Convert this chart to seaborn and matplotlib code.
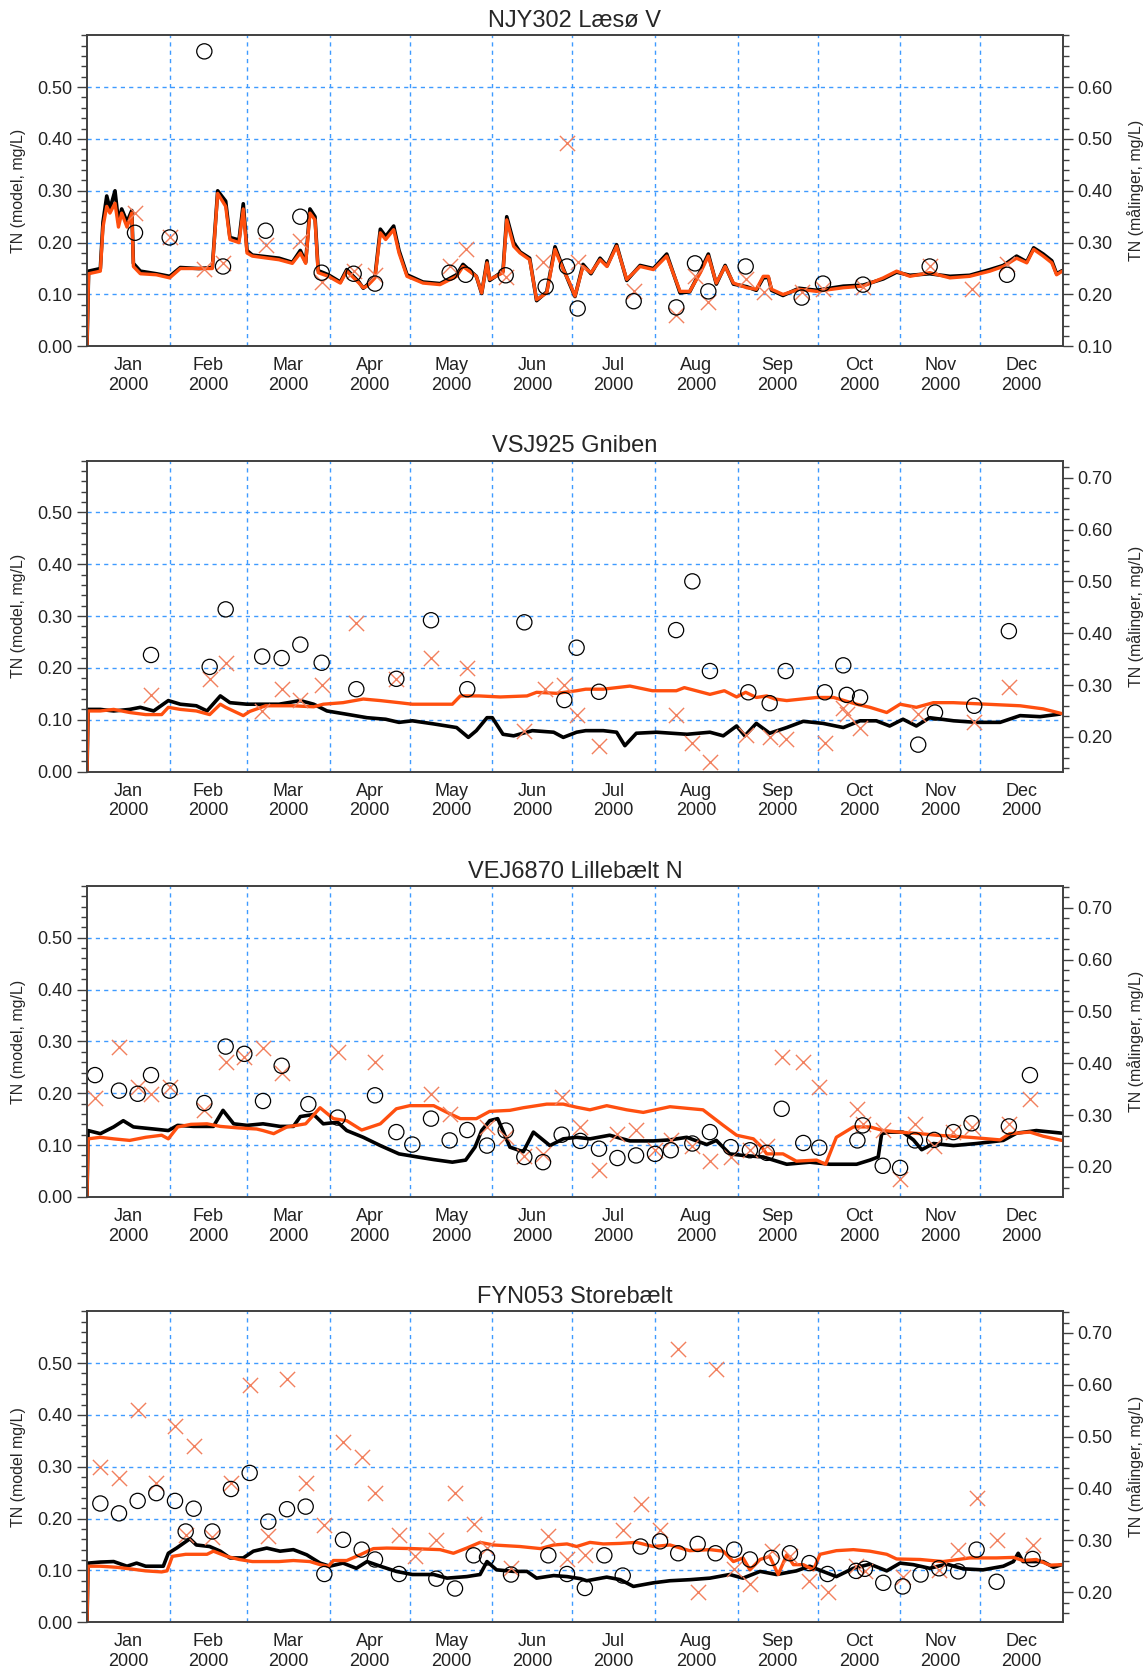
import numpy as np
import pandas as pd
import matplotlib
matplotlib.use('Agg')
import matplotlib.pyplot as plt
from matplotlib.ticker import MultipleLocator, FixedLocator, NullFormatter
import seaborn as sns

# ---- data (x = day of year 2000, values in mg/L) ----
titles = ['NJY302 Læsø V', 'VSJ925 Gniben', 'VEJ6870 Lillebælt N', 'FYN053 Storebælt']
left_labels = ['TN (model, mg/L)', 'TN (model, mg/L)', 'TN (model, mg/L)', 'TN (model mg/L)']
right_label = 'TN (målinger, mg/L)'
right_offset = [0.10, 0.133, 0.142, 0.142]
month_names = ['Jan', 'Feb', 'Mar', 'Apr', 'May', 'Jun', 'Jul', 'Aug', 'Sep', 'Oct', 'Nov', 'Dec']

# NJY302
p1_days = [0, 0.6, 5, 6, 7.4, 8.6, 10.5, 11.8, 13, 15, 16.8, 17.4, 20, 26, 31, 35, 42, 47, 49, 52,
           53.6, 57, 58.6, 60, 62, 72, 77, 80, 82, 83.6, 85.5, 86.7, 90.5, 95, 97.4, 102, 103.6, 105,
           108, 110, 112, 115, 117, 120, 126, 132.4, 138.6, 141, 146, 148, 150, 151, 156, 157.4, 160,
           162.4, 166, 168.6, 172.4, 175.5, 178.6, 181, 183, 186, 189, 192.4, 195, 198.6, 202.4,
           207.4, 212.4, 217.4, 222.4, 226, 230, 233, 236, 239.3, 242.4, 247.4, 251, 253.6, 255.5,
           256.7, 261, 267, 273.6, 283.6, 291, 298.6, 303.6, 308.6, 316, 323.6, 331, 338.6, 343.6,
           348.6, 352.4, 355, 358.6, 361.8, 363.6, 365.7]
p1_orange = [0.0, 0.14, 0.145, 0.23, 0.27, 0.257, 0.276, 0.23, 0.257, 0.23, 0.257, 0.154, 0.14,
             0.138, 0.132, 0.15, 0.15, 0.15, 0.295, 0.27, 0.206, 0.2, 0.265, 0.18, 0.174, 0.167,
             0.16, 0.18, 0.16, 0.257, 0.244, 0.142, 0.135, 0.122, 0.145, 0.122, 0.113, 0.116, 0.132,
             0.219, 0.206, 0.225, 0.18, 0.135, 0.122, 0.119, 0.135, 0.154, 0.135, 0.103, 0.161,
             0.129, 0.142, 0.244, 0.193, 0.18, 0.167, 0.09, 0.103, 0.187, 0.148, 0.122, 0.097,
             0.154, 0.142, 0.167, 0.154, 0.193, 0.129, 0.154, 0.148, 0.174, 0.106, 0.106, 0.142,
             0.174, 0.122, 0.154, 0.122, 0.113, 0.11, 0.135, 0.135, 0.11, 0.1, 0.11, 0.106, 0.113,
             0.116, 0.132, 0.145, 0.135, 0.142, 0.132, 0.135, 0.145, 0.154, 0.17, 0.161, 0.187,
             0.174, 0.161, 0.138, 0.145]
p1_black = [0.0, 0.145, 0.15, 0.24, 0.29, 0.265, 0.30, 0.24, 0.265, 0.24, 0.262, 0.16, 0.145,
            0.14, 0.135, 0.152, 0.15, 0.152, 0.30, 0.28, 0.21, 0.205, 0.275, 0.185, 0.176, 0.17,
            0.162, 0.185, 0.162, 0.265, 0.25, 0.146, 0.138, 0.124, 0.148, 0.124, 0.112, 0.118, 0.135,
            0.226, 0.212, 0.232, 0.185, 0.138, 0.124, 0.121, 0.138, 0.158, 0.135, 0.102, 0.165,
            0.127, 0.145, 0.25, 0.2, 0.182, 0.17, 0.088, 0.105, 0.192, 0.15, 0.12, 0.096,
            0.158, 0.14, 0.17, 0.155, 0.196, 0.127, 0.156, 0.15, 0.178, 0.103, 0.105, 0.145,
            0.178, 0.12, 0.156, 0.12, 0.115, 0.108, 0.132, 0.133, 0.108, 0.098, 0.112, 0.108, 0.116,
            0.118, 0.13, 0.143, 0.137, 0.14, 0.135, 0.137, 0.148, 0.156, 0.174, 0.163, 0.19,
            0.178, 0.165, 0.14, 0.146]
p1_circ_days = [18, 31, 44, 51, 67, 80, 88, 100, 108, 136, 142, 157, 172, 180, 184, 205, 221, 228,
                233, 247, 268, 276, 291, 316, 345]
p1_circ = [0.219, 0.21, 0.569, 0.154, 0.223, 0.25, 0.142, 0.14, 0.121, 0.142, 0.138, 0.137, 0.115,
           0.154, 0.073, 0.087, 0.075, 0.16, 0.106, 0.154, 0.094, 0.121, 0.119, 0.154, 0.138]
p1_x_days = [18, 31, 44, 51, 67, 80, 88, 100, 108, 136, 142, 157, 171, 180, 184, 205, 221, 228, 233,
             247, 254, 268, 276, 291, 316, 332, 345]
p1_x = [0.258, 0.211, 0.15, 0.16, 0.196, 0.204, 0.125, 0.146, 0.138, 0.154, 0.187, 0.133, 0.163,
        0.392, 0.163, 0.106, 0.06, 0.135, 0.085, 0.129, 0.104, 0.104, 0.11, 0.115, 0.154, 0.11, 0.158]

# VSJ925
p2_orange_days = [0, 0.4, 5, 10, 16, 22, 28, 30.5, 35, 41, 46, 50, 52, 58.6, 61, 67, 77, 85, 88.6,
                  96, 103.6, 110, 117, 122, 132, 137, 140, 147, 155, 165, 168.6, 176, 183.6, 187,
                  193.6, 203.6, 212, 221, 224, 233.6, 239, 243.6, 247, 251, 254.9, 258, 262.4,
                  273.6, 280, 288.6, 293.6, 299.9, 304.9, 311, 317.4, 324.9, 337.4, 349.9, 358.6,
                  365.5]
p2_orange = [0.0, 0.117, 0.117, 0.12, 0.114, 0.11, 0.11, 0.124, 0.12, 0.117, 0.11, 0.13, 0.124,
             0.108, 0.116, 0.127, 0.127, 0.125, 0.13, 0.133, 0.14, 0.137, 0.133, 0.13, 0.13, 0.13,
             0.146, 0.146, 0.144, 0.146, 0.153, 0.151, 0.156, 0.159, 0.159, 0.165, 0.156, 0.156,
             0.162, 0.149, 0.156, 0.144, 0.153, 0.143, 0.146, 0.14, 0.137, 0.143, 0.143, 0.13,
             0.124, 0.114, 0.13, 0.124, 0.133, 0.133, 0.13, 0.127, 0.121, 0.112]
p2_black_days = [0, 0.4, 5, 10, 16, 20, 25, 30.5, 35, 41, 45, 50, 53.6, 60, 67, 72, 80, 85, 90, 97,
                 105, 112, 117, 122, 130, 138.6, 143, 146, 150, 152, 156, 160, 167, 175, 178.6,
                 183.6, 187, 193.6, 198.6, 201.7, 206, 213.6, 225, 233.6, 238.6, 243.6, 246.7,
                 251, 256, 262.4, 268.6, 276, 283.6, 289.9, 296, 301, 306, 311, 316, 325, 333.6,
                 342.4, 349.9, 357.4, 364.9]
p2_black = [0.0, 0.12, 0.12, 0.117, 0.12, 0.124, 0.117, 0.137, 0.13, 0.127, 0.117, 0.146, 0.133,
            0.13, 0.13, 0.13, 0.137, 0.13, 0.117, 0.111, 0.104, 0.101, 0.095, 0.098, 0.092, 0.085,
            0.066, 0.079, 0.104, 0.104, 0.072, 0.069, 0.079, 0.076, 0.066, 0.076, 0.079, 0.079,
            0.076, 0.05, 0.074, 0.076, 0.072, 0.076, 0.069, 0.088, 0.069, 0.093, 0.074, 0.085,
            0.097, 0.093, 0.085, 0.098, 0.098, 0.088, 0.101, 0.088, 0.104, 0.098, 0.095, 0.095,
            0.108, 0.106, 0.111]
p2_circ_days = [24, 46, 52, 65.7, 73, 80, 88, 101, 116, 129, 142.6, 164, 179, 183.6, 192, 220.9,
                227, 233.6, 248, 256, 262, 276.7, 283.6, 284.9, 289.9, 311.7, 318, 332.7, 345.7]
p2_circ = [0.225, 0.202, 0.313, 0.222, 0.219, 0.245, 0.21, 0.159, 0.179, 0.292, 0.159, 0.288, 0.138,
           0.239, 0.154, 0.273, 0.367, 0.194, 0.153, 0.132, 0.194, 0.153, 0.205, 0.148, 0.143,
           0.052, 0.114, 0.127, 0.271]
p2_x_days = [24, 46, 52, 65.7, 73, 80, 88, 101, 116, 129, 142.6, 164, 171.8, 179, 183.6, 192, 220.9,
             227, 233.6, 247, 256, 262, 276.7, 283.6, 284.9, 289.9, 311.7, 332.7, 345.7]
p2_x = [0.148, 0.178, 0.21, 0.116, 0.159, 0.138, 0.167, 0.287, 0.179, 0.219, 0.199, 0.079, 0.16,
        0.167, 0.11, 0.049, 0.11, 0.056, 0.018, 0.07, 0.066, 0.063, 0.056, 0.122, 0.111, 0.085,
        0.111, 0.095, 0.163]

# VEJ6870
p3_orange_days = [0, 0.4, 5, 10, 16, 22, 28, 30.5, 34, 39, 45, 50, 57, 63.6, 66, 70, 75, 82, 87.4,
                  92.4, 97.4, 103, 110, 116, 121, 130, 135, 140, 146, 151, 158.6, 163.6, 172.4,
                  178.6, 183.6, 188.6, 194.9, 202.4, 208.6, 218.6, 231, 238.6, 243.6, 249.9, 253,
                  254.9, 261, 266, 273.6, 277, 281, 287.4, 293.6, 298.6, 304.9, 312.4, 318.6, 331,
                  342.4, 346, 353.6, 358.6, 365.5]
p3_orange = [0.0, 0.112, 0.115, 0.112, 0.109, 0.115, 0.119, 0.112, 0.135, 0.14, 0.141, 0.136,
             0.133, 0.131, 0.128, 0.122, 0.135, 0.141, 0.172, 0.151, 0.147, 0.129, 0.141, 0.17,
             0.176, 0.176, 0.163, 0.151, 0.151, 0.165, 0.167, 0.172, 0.179, 0.179, 0.173, 0.168,
             0.176, 0.168, 0.163, 0.174, 0.168, 0.138, 0.119, 0.112, 0.096, 0.083, 0.083, 0.069,
             0.071, 0.063, 0.115, 0.135, 0.135, 0.128, 0.125, 0.122, 0.119, 0.115, 0.11, 0.122,
             0.125, 0.117, 0.109]
p3_black_days = [0, 0.4, 5, 10, 13.6, 17.4, 25, 30.5, 34, 40, 47.4, 51, 55, 60, 66, 72.4, 77.4, 80,
                 85, 88.6, 94, 97.4, 103.6, 110, 117, 124, 130, 137, 142, 145.5, 148, 151, 154,
                 158.6, 163.6, 167.4, 173.6, 178.6, 183.6, 188.6, 196, 203.6, 212.4, 218.6, 224.9,
                 232.4, 236, 241, 246, 253.6, 262.4, 271, 278.6, 288.6, 293.6, 296.7, 298, 301,
                 306, 309.9, 313, 317.4, 324.9, 333.6, 343.6, 348.6, 356, 365.5]
p3_black = [0.0, 0.128, 0.122, 0.135, 0.147, 0.135, 0.131, 0.128, 0.138, 0.136, 0.136, 0.167,
            0.141, 0.138, 0.141, 0.136, 0.136, 0.155, 0.159, 0.141, 0.144, 0.128, 0.115, 0.099,
            0.083, 0.077, 0.072, 0.067, 0.071, 0.096, 0.128, 0.147, 0.151, 0.096, 0.087, 0.125,
            0.099, 0.112, 0.115, 0.112, 0.119, 0.108, 0.108, 0.11, 0.115, 0.101, 0.109, 0.083,
            0.08, 0.077, 0.063, 0.067, 0.063, 0.063, 0.071, 0.077, 0.122, 0.125, 0.125, 0.11,
            0.091, 0.103, 0.099, 0.103, 0.109, 0.123, 0.128, 0.123]
p3_circ_days = [3, 12, 19, 24, 31, 44, 52, 59, 66, 73, 83, 94, 108, 116, 122, 129, 136, 142.6, 150,
                157, 164, 171, 178, 185, 192, 198.9, 205.9, 213, 218.9, 227, 233.6, 241.4, 248.6,
                254.9, 260.5, 268.6, 274.6, 288.9, 290.9, 298.4, 304.9, 310.5, 317.7, 324.9,
                331.7, 345.7, 353.6]
p3_circ = [0.235, 0.205, 0.199, 0.235, 0.205, 0.181, 0.29, 0.276, 0.185, 0.253, 0.179, 0.153,
           0.196, 0.125, 0.101, 0.151, 0.109, 0.129, 0.099, 0.128, 0.077, 0.067, 0.12, 0.108,
           0.093, 0.075, 0.08, 0.083, 0.09, 0.103, 0.125, 0.096, 0.09, 0.085, 0.17, 0.104, 0.095,
           0.109, 0.138, 0.06, 0.056, 0.109, 0.11, 0.125, 0.142, 0.136, 0.235]
p3_x_days = [3, 12, 19, 24, 31, 44, 52, 59, 66, 73, 94, 108, 129, 136, 150, 157, 164, 171, 178,
             185, 192, 198.9, 205.9, 213, 218.9, 227, 233.6, 241.4, 248.6, 254.9, 260.5, 268.6,
             274.6, 288.9, 290.9, 298.4, 304.9, 310.5, 317.7, 324.9, 331.7, 345.7, 353.6]
p3_x = [0.191, 0.29, 0.212, 0.199, 0.212, 0.167, 0.26, 0.269, 0.288, 0.24, 0.279, 0.26, 0.199,
        0.159, 0.135, 0.115, 0.079, 0.083, 0.192, 0.135, 0.051, 0.122, 0.129, 0.09, 0.109, 0.099,
        0.07, 0.077, 0.09, 0.099, 0.269, 0.26, 0.212, 0.17, 0.141, 0.129, 0.035, 0.141, 0.099,
        0.125, 0.135, 0.141, 0.189]

# FYN053
p4_orange_days = [0, 0.4, 5, 11, 16, 22, 28, 30, 32, 37, 45, 47.4, 52.4, 57, 62, 67, 72, 77.4,
                  83.6, 87.4, 90.5, 92.4, 97.4, 102.4, 107.4, 112.4, 122, 132.4, 137.4, 142.4,
                  147.4, 152.4, 162.4, 170, 175, 180, 183.6, 188.6, 193.6, 200, 206, 212.4, 218.6,
                  226, 233.6, 238.6, 242.4, 246, 248.6, 252.4, 256, 259.2, 262.4, 264.9, 268.6,
                  272.4, 274.9, 281, 287.4, 293.6, 299.9, 303.6, 312.4, 321, 331, 341, 347.4, 351,
                  356, 361, 365.5]
p4_orange = [0.0, 0.108, 0.108, 0.106, 0.103, 0.099, 0.097, 0.099, 0.127, 0.131, 0.131, 0.137,
             0.127, 0.121, 0.117, 0.117, 0.117, 0.119, 0.117, 0.111, 0.108, 0.119, 0.119, 0.13,
             0.142, 0.143, 0.142, 0.14, 0.133, 0.143, 0.154, 0.149, 0.146, 0.142, 0.149, 0.151,
             0.146, 0.154, 0.151, 0.152, 0.154, 0.146, 0.149, 0.138, 0.14, 0.137, 0.117, 0.124,
             0.101, 0.121, 0.127, 0.092, 0.13, 0.111, 0.111, 0.101, 0.131, 0.138, 0.14, 0.137,
             0.131, 0.122, 0.121, 0.117, 0.124, 0.124, 0.125, 0.119, 0.121, 0.11, 0.111]
p4_black_days = [0, 0.4, 5, 10, 15, 18.6, 22, 28.6, 30.5, 33.6, 38.6, 41, 46, 50, 53.6, 58.6,
                 62.4, 67.4, 72.4, 77.4, 82.4, 87.4, 91, 96, 101, 105, 110, 116, 122, 130, 135,
                 142.4, 147.4, 150, 153.6, 160, 165, 168.6, 175, 180, 185, 187.4, 194.9, 200,
                 204.9, 212.4, 218.6, 226, 233.6, 241, 246, 252.4, 258.6, 266, 271, 276, 281,
                 287.4, 293.6, 299.9, 304.9, 309.9, 316, 322.4, 328.6, 336, 343.6, 347.4, 349.2,
                 351, 358.6, 362.4, 365.5]
p4_black = [0.0, 0.114, 0.116, 0.117, 0.108, 0.114, 0.108, 0.108, 0.133, 0.143, 0.161, 0.149,
            0.146, 0.137, 0.124, 0.124, 0.137, 0.143, 0.137, 0.14, 0.13, 0.114, 0.108, 0.114,
            0.104, 0.117, 0.108, 0.098, 0.092, 0.092, 0.085, 0.088, 0.092, 0.117, 0.101, 0.098,
            0.098, 0.085, 0.09, 0.088, 0.084, 0.08, 0.087, 0.082, 0.069, 0.076, 0.08, 0.082,
            0.085, 0.092, 0.085, 0.098, 0.092, 0.099, 0.108, 0.098, 0.088, 0.104, 0.112, 0.099,
            0.114, 0.111, 0.104, 0.112, 0.103, 0.101, 0.108, 0.117, 0.133, 0.117, 0.117, 0.106,
            0.111]
p4_circ_days = [5, 12, 19, 26, 33, 37, 40, 47, 54, 61, 68, 75, 82, 89, 96, 103, 108, 117, 131, 138,
                145, 150, 159, 173, 180, 186.7, 194, 200.9, 207.6, 214.9, 221.7, 229, 235.7, 242.7,
                248.6, 256.7, 263.6, 270.9, 277.7, 288.4, 291.7, 298.6, 305.9, 312.6, 319.5, 326.7,
                333.6, 341.1, 354.6]
p4_circ = [0.229, 0.21, 0.234, 0.249, 0.234, 0.175, 0.219, 0.175, 0.257, 0.288, 0.194, 0.218,
           0.223, 0.093, 0.159, 0.14, 0.121, 0.093, 0.084, 0.065, 0.129, 0.125, 0.092, 0.129,
           0.093, 0.066, 0.129, 0.09, 0.146, 0.156, 0.133, 0.151, 0.133, 0.14, 0.121, 0.124, 0.133,
           0.114, 0.093, 0.099, 0.103, 0.076, 0.069, 0.092, 0.104, 0.098, 0.14, 0.078, 0.122]
p4_x_days = [5, 12, 19, 26, 33, 37, 40, 47, 54, 61, 68, 75, 82, 89, 96, 103, 108, 117, 123, 131, 138,
             145, 150, 159, 173, 180, 186.7, 200.9, 207.6, 214.9, 221.7, 229, 235.7, 242.7, 248.6,
             256.7, 263.6, 270.9, 277.7, 288.4, 291.7, 305.9, 319.5, 326.7, 333.6, 341.1, 354.6]
p4_x = [0.3, 0.278, 0.409, 0.268, 0.379, 0.169, 0.34, 0.165, 0.268, 0.457, 0.167, 0.469, 0.268,
        0.188, 0.348, 0.319, 0.249, 0.169, 0.127, 0.159, 0.249, 0.189, 0.143, 0.104, 0.167, 0.121,
        0.129, 0.178, 0.229, 0.178, 0.528, 0.058, 0.489, 0.103, 0.074, 0.137, 0.127, 0.079, 0.058,
        0.108, 0.098, 0.087, 0.101, 0.14, 0.239, 0.159, 0.149]

panels = [
    (p1_days, p1_black, p1_days, p1_orange, p1_circ_days, p1_circ, p1_x_days, p1_x),
    (p2_black_days, p2_black, p2_orange_days, p2_orange, p2_circ_days, p2_circ, p2_x_days, p2_x),
    (p3_black_days, p3_black, p3_orange_days, p3_orange, p3_circ_days, p3_circ, p3_x_days, p3_x),
    (p4_black_days, p4_black, p4_orange_days, p4_orange, p4_circ_days, p4_circ, p4_x_days, p4_x),
]

# ---- style ----
sns.set_style('white')
plt.rcParams['font.family'] = ['Liberation Sans', 'DejaVu Sans']
plt.rcParams['font.size'] = 13

ORANGE = '#FF4F0F'
XCOL = '#F2805E'
GRID = '#3F9BFF'
SPINE = '#404040'

month_start = pd.date_range('2000-01-01', periods=13, freq='MS')
month_edges = [(d - month_start[0]).days for d in month_start]   # 0, 31, ..., 366
month_mid = [(a + b) / 2 for a, b in zip(month_edges[:-1], month_edges[1:])]
month_labels = [f'{m}\n2000' for m in month_names]

W, H = 1143, 1679
fig = plt.figure(figsize=(W / 100, H / 100), dpi=100)

for i, (bd, bv, od, ov, cd, cv, xd, xv) in enumerate(panels):
    top = 35.3 + i * 425.3
    ax = fig.add_axes([87 / W, 1 - (top + 311) / H, 976 / W, 311 / H])

    sns.lineplot(x=bd, y=bv, color='black', lw=2.6, ax=ax, zorder=3, sort=False)
    sns.lineplot(x=od, y=ov, color=ORANGE, lw=2.4, ax=ax, zorder=4, sort=False)
    sns.scatterplot(x=xd, y=xv, marker='x', color=XCOL, s=120, linewidth=1.0, ax=ax, zorder=5)
    sns.scatterplot(x=cd, y=cv, marker='o', facecolor='none', edgecolor='black', s=120,
                    linewidth=0.9, ax=ax, zorder=6)

    ax.set_xlim(0, 366)
    ax.set_ylim(0, 0.6)

    # x axis: ticks at month edges, labels in month middles
    ax.xaxis.set_major_locator(FixedLocator(month_edges[:-1]))
    ax.xaxis.set_major_formatter(NullFormatter())
    ax.xaxis.set_minor_locator(FixedLocator(month_mid))
    ax.set_xticklabels(month_labels, minor=True)
    ax.tick_params(axis='x', which='major', length=7, width=1, color=SPINE, direction='out')
    ax.tick_params(axis='x', which='minor', length=0, pad=8, labelsize=13, colors='#222222')

    # left y axis
    ax.yaxis.set_major_locator(FixedLocator([0.0, 0.1, 0.2, 0.3, 0.4, 0.5]))
    ax.yaxis.set_minor_locator(MultipleLocator(0.02))
    ax.yaxis.set_major_formatter(matplotlib.ticker.FormatStrFormatter('%.2f'))
    ax.tick_params(axis='y', which='major', length=7, width=1, color=SPINE, left=True,
                   labelsize=13, labelcolor='#222222')
    ax.tick_params(axis='y', which='minor', length=4, width=1, color=SPINE, left=True)
    ax.set_ylabel(left_labels[i], fontsize=11.5, labelpad=8)
    ax.set_xlabel('')

    # grid
    for e in month_edges[1:-1]:
        ax.axvline(e, color=GRID, lw=1.0, ls=(0, (3, 3)), zorder=1)
    for yv in [0.1, 0.2, 0.3, 0.4, 0.5]:
        ax.axhline(yv, color=GRID, lw=1.0, ls=(0, (3, 3)), zorder=1)

    for sp in ax.spines.values():
        sp.set_color(SPINE)
        sp.set_linewidth(1.2)

    ax.set_title(titles[i], fontsize=17, pad=6)

    # right y axis (measurement scale)
    off = right_offset[i]
    ax2 = ax.twinx()
    ax2.set_ylim(off, off + 0.6)
    lo = np.ceil(off * 10 - 1e-6) / 10
    ax2.yaxis.set_major_locator(FixedLocator(np.round(np.arange(lo, off + 0.6 - 1e-6, 0.1), 2)))
    ax2.yaxis.set_minor_locator(MultipleLocator(0.02))
    ax2.yaxis.set_major_formatter(matplotlib.ticker.FormatStrFormatter('%.2f'))
    ax2.tick_params(axis='y', which='major', length=7, width=1, color=SPINE, right=True,
                    labelsize=13, labelcolor='#222222')
    ax2.tick_params(axis='y', which='minor', length=4, width=1, color=SPINE, right=True)
    ax2.set_ylabel(right_label, fontsize=11.5, labelpad=10)
    for sp in ax2.spines.values():
        sp.set_color(SPINE)
        sp.set_linewidth(1.2)

fig.savefig('out.png', dpi=100)
